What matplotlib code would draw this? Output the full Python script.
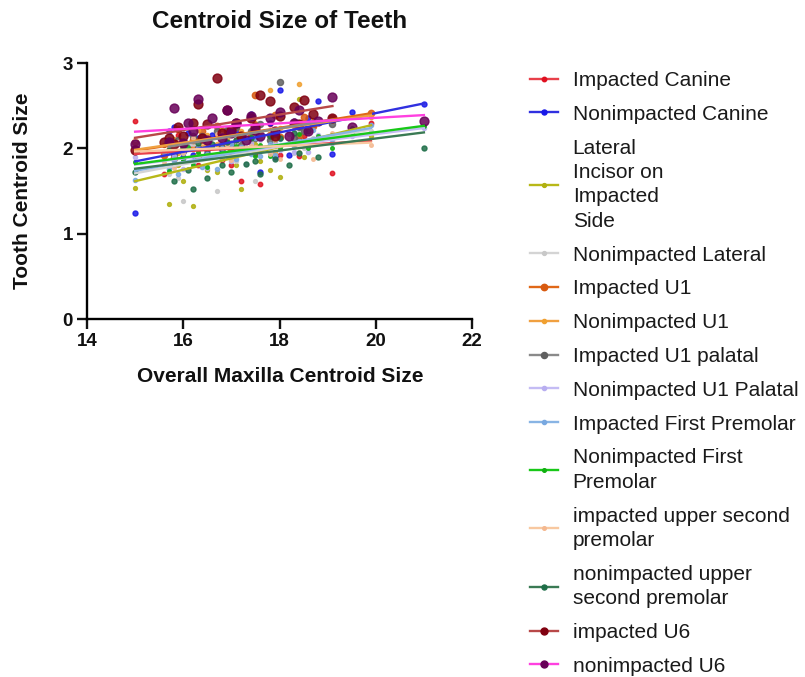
import numpy as np
import matplotlib
matplotlib.use("Agg")
import matplotlib.pyplot as plt
from matplotlib.lines import Line2D

plt.rcParams['font.family'] = ['Liberation Sans', 'DejaVu Sans']

# Overall maxilla centroid size per patient (impacted-side and nonimpacted-side groups)
x_impacted = [15.0, 15.6, 15.7, 15.8, 15.9, 16.0, 16.2, 16.3, 16.4, 16.5,
              16.7, 16.8, 16.9, 17.0, 17.1, 17.2, 17.4, 17.5, 17.6, 17.8,
              17.9, 18.0, 18.3, 18.4, 18.5, 18.7, 19.1, 19.9]
x_nonimpacted = [15.0, 15.7, 15.8, 16.0, 16.1, 16.2, 16.3, 16.5, 16.6, 16.8,
                 16.9, 17.0, 17.1, 17.3, 17.4, 17.5, 17.6, 17.8, 17.9, 18.0,
                 18.2, 18.3, 18.4, 18.6, 18.8, 19.1, 19.5, 21.0]

# Tooth centroid sizes
impacted_canine = [2.32, 1.70, 2.06, 1.80, 2.16, 1.89, 2.00, 1.80, 2.10, 1.94,
                   2.15, 1.86, 2.05, 1.80, 2.10, 1.62, 2.15, 1.93, 1.58, 2.28,
                   2.20, 1.92, 2.29, 1.91, 2.14, 2.26, 1.71, 2.30]
nonimpacted_canine = [1.24, 2.20, 2.25, 1.90, 2.18, 1.92, 2.12, 1.95, 2.16, 1.98,
                      2.20, 1.92, 2.22, 1.98, 2.40, 2.00, 1.72, 2.30, 1.90, 2.68,
                      1.92, 2.32, 2.10, 2.35, 2.55, 1.93, 2.42, 2.52]
lateral_impacted_side = [1.53, 1.90, 1.35, 1.95, 1.80, 1.62, 1.32, 2.10, 2.00, 1.75,
                         1.72, 2.10, 1.95, 2.05, 1.80, 1.52, 2.20, 2.05, 1.85, 1.75,
                         2.22, 1.66, 2.30, 2.58, 1.90, 2.05, 2.10, 2.15]
nonimpacted_lateral = [1.72, 1.90, 1.70, 1.92, 1.65, 1.38, 2.05, 1.95, 2.00, 1.80,
                       1.50, 2.10, 2.02, 2.08, 1.85, 1.98, 2.05, 1.62, 2.10, 2.15,
                       1.92, 2.12, 1.95, 2.18, 2.00, 2.12, 2.10, 2.20]
impacted_u1 = [2.08, 1.92, 2.09, 1.89, 2.23, 1.98, 2.10, 1.91, 2.20, 2.07,
               2.26, 2.01, 2.19, 1.97, 2.25, 2.14, 2.14, 2.62, 2.00, 2.16,
               2.39, 2.13, 2.31, 2.15, 2.37, 2.26, 2.36, 2.41]
nonimpacted_u1 = [1.97, 2.04, 2.00, 2.11, 1.94, 2.09, 1.99, 2.21, 2.04, 2.16,
                  2.05, 2.23, 2.11, 2.22, 2.00, 2.20, 2.07, 2.30, 2.16, 2.68,
                  1.96, 2.24, 2.04, 2.75, 2.06, 2.33, 2.16, 2.37]
impacted_u1_palatal = [2.08, 1.93, 2.10, 1.97, 2.14, 2.00, 2.15, 1.99, 2.20, 2.03,
                       2.22, 2.05, 2.25, 2.04, 2.20, 2.12, 2.28, 2.10, 2.15, 2.78,
                       2.12, 2.25, 2.20, 2.30, 2.28]
nonimpacted_u1_palatal = [1.90, 1.77, 1.91, 1.76, 2.03, 1.83, 1.92, 1.77, 2.01, 1.91,
                          2.06, 1.85, 2.00, 1.82, 2.06, 1.97, 2.11, 1.94, 2.08, 1.98,
                          2.17, 1.96, 2.08, 1.96, 2.16, 2.07, 2.15, 2.24]
impacted_first_premolar = [1.63, 1.96, 1.76, 1.85, 1.70, 1.94, 1.84, 2.00, 1.78, 1.93,
                           1.76, 2.00, 1.91, 2.05, 1.88, 2.02, 1.93, 2.12, 1.91, 2.05,
                           1.92, 2.11, 2.03, 2.09, 2.08, 2.21, 2.06, 2.27]
nonimpacted_first_premolar = [1.84, 1.73, 1.97, 1.86, 2.02, 1.81, 1.96, 1.78, 2.02, 1.93,
                              2.07, 1.90, 2.03, 1.94, 2.13, 1.91, 2.04, 1.91, 2.10, 2.00,
                              2.06, 2.05, 2.17, 2.00, 2.15, 2.00, 2.24, 2.26]
impacted_second_premolar = [2.11, 1.84, 2.02, 1.77, 2.07, 1.95, 2.12, 1.90, 2.07, 1.92,
                            2.17, 1.88, 2.04, 1.86, 2.10, 1.96, 2.03, 2.01, 2.15, 1.93,
                            2.10, 1.87, 2.24, 1.96, 2.08, 1.87, 2.18, 2.04]
nonimpacted_second_premolar = [1.72, 1.98, 1.62, 2.02, 1.75, 1.52, 2.06, 1.65, 2.05, 1.80,
                               2.08, 1.72, 2.10, 1.82, 2.12, 1.85, 1.70, 2.15, 1.88, 2.12,
                               1.80, 2.18, 1.95, 2.20, 1.90, 2.15, 2.20, 2.00]
impacted_u6 = [1.98, 2.08, 2.12, 2.05, 2.25, 2.15, 2.30, 2.52, 2.12, 2.28,
               2.82, 2.18, 2.45, 2.22, 2.30, 2.15, 2.35, 2.25, 2.62, 2.55,
               2.15, 2.38, 2.48, 2.28, 2.57, 2.40, 2.35]
nonimpacted_u6 = [2.05, 2.08, 2.47, 2.06, 2.30, 2.20, 2.58, 2.10, 2.35, 2.12,
                  2.45, 2.18, 2.30, 2.10, 2.38, 2.22, 2.15, 2.35, 2.20, 2.42,
                  2.15, 2.30, 2.45, 2.20, 2.32, 2.60, 2.25, 2.32]

# (label, x, y, line colour, marker colour, marker size)
series = [
    ("Impacted Canine", x_impacted, impacted_canine, "#e8404a", "#e01020", 3.2),
    ("Nonimpacted Canine", x_nonimpacted, nonimpacted_canine, "#3030e0", "#1818e8", 3.6),
    ("Lateral\nIncisor on\nImpacted\nSide", x_impacted, lateral_impacted_side, "#b8b818", "#b0b010", 2.8),
    ("Nonimpacted Lateral", x_impacted, nonimpacted_lateral, "#d4d4d4", "#c8c8c8", 2.8),
    ("Impacted U1", x_impacted, impacted_u1, "#e06818", "#d85a10", 4.6),
    ("Nonimpacted U1", x_impacted, nonimpacted_u1, "#f0a040", "#f0a030", 3.0),
    ("Impacted U1 palatal", x_impacted[2:-1], impacted_u1_palatal, "#8a8a8a", "#606060", 4.4),
    ("Nonimpacted U1 Palatal", x_nonimpacted, nonimpacted_u1_palatal, "#c4bcf4", "#b8aef0", 3.0),
    ("Impacted First Premolar", x_impacted, impacted_first_premolar, "#88b4e4", "#78a8e0", 3.0),
    ("Nonimpacted First\nPremolar", x_nonimpacted, nonimpacted_first_premolar, "#18c818", "#10b010", 2.6),
    ("impacted upper second\npremolar", x_impacted, impacted_second_premolar, "#f8c8a0", "#f4b890", 2.6),
    ("nonimpacted upper\nsecond premolar", x_nonimpacted, nonimpacted_second_premolar, "#3a7a54", "#1e6e48", 3.6),
    ("impacted U6", x_impacted[:-1], impacted_u6, "#b84848", "#800010", 6.4),
    ("nonimpacted U6", x_nonimpacted, nonimpacted_u6, "#ff40e0", "#680058", 6.4),
]

W, H = 805, 677
fig = plt.figure(figsize=(W / 100, H / 100), dpi=100)
ax = fig.add_axes([87 / W, 1 - 319 / H, (472 - 87) / W, (319 - 63) / H])

# points first, regression lines on top
for label, xs, ys, lc, mc, ms in series:
    ax.plot(xs, ys, linestyle="none", marker="o", markersize=ms,
            markerfacecolor=mc, markeredgecolor=mc, alpha=0.85, zorder=2)

handles = []
for label, xs, ys, lc, mc, ms in series:
    xs_a = np.asarray(xs)
    slope, intercept = np.polyfit(xs_a, np.asarray(ys), 1)
    xf = np.array([xs_a.min(), xs_a.max()])
    ax.plot(xf, intercept + slope * xf, color=lc, lw=1.7, zorder=3)
    handles.append(Line2D([], [], color=lc, lw=1.7, marker="o",
                          markersize=min(ms, 5.0), markerfacecolor=mc,
                          markeredgecolor=mc))

ax.set_xlim(14, 22)
ax.set_ylim(0, 3)
ax.set_xticks([14, 16, 18, 20, 22])
ax.set_yticks([0, 1, 2, 3])
for s in ("top", "right"):
    ax.spines[s].set_visible(False)
for s in ("left", "bottom"):
    ax.spines[s].set_linewidth(1.7)
ax.tick_params(direction="out", length=7, width=1.7, labelsize=13.5, pad=3,
               colors="#111111")
for t in ax.get_xticklabels() + ax.get_yticklabels():
    t.set_fontweight("bold")

fig.text(280 / W, 1 - 21 / H, "Centroid Size of Teeth", fontsize=17.5,
         fontweight="bold", ha="center", va="center", color="#111111")
fig.text(280 / W, 1 - 377 / H, "Overall Maxilla Centroid Size", fontsize=15,
         fontweight="bold", ha="center", va="center", color="#111111")
fig.text(22 / W, 1 - 191 / H, "Tooth Centroid Size", fontsize=15,
         fontweight="bold", ha="center", va="center", rotation=90, color="#111111")

leg = fig.legend(handles, [s[0] for s in series], loc="upper left",
                 bbox_to_anchor=(530 / W, 1 - 71 / H), frameon=False,
                 fontsize=15, handlelength=1.35, handletextpad=0.7,
                 labelspacing=0.71, numpoints=1, borderaxespad=0,
                 borderpad=0)
for t in leg.get_texts():
    t.set_color("#1a1a1a")
    t.set_linespacing(1.36)

fig.savefig("out.png", dpi=100)
